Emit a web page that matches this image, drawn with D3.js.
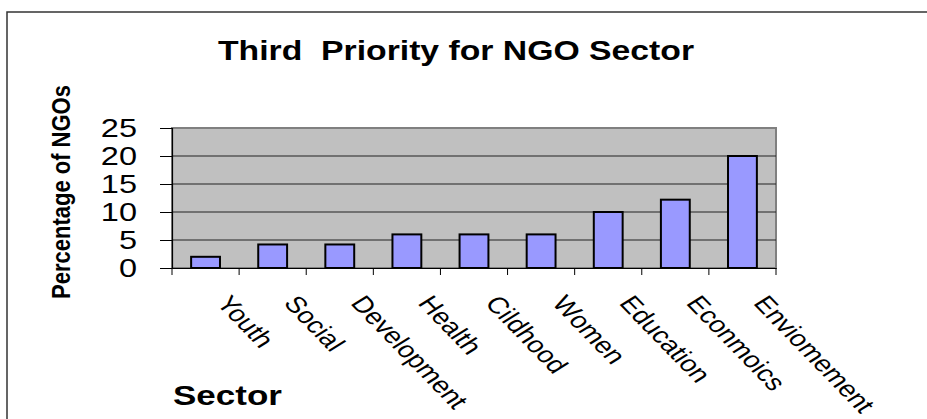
<!DOCTYPE html>
<html>
<head>
<meta charset="utf-8">
<script src="https://cdn.jsdelivr.net/npm/d3@7"></script>
<style>
  html, body { margin: 0; padding: 0; background: #fff; }
  svg { display: block; font-family: Arial, "Liberation Sans", sans-serif; }
</style>
</head>
<body>
<svg id="chart" width="927" height="419"></svg>
<script>
// Sector categories and the share of NGOs naming each as third priority
const sectors = ["Youth", "Social", "Development", "Health", "Cildhood", "Women", "Education", "Econmoics", "Enviomement"];
const shares = [2, 4.2, 4.2, 6, 6, 6, 10, 12.2, 20];
const yTicks = [0, 5, 10, 15, 20, 25];

const titleText = "Third  Priority for NGO Sector";
const yTitle = "Percentage of NGOs";
const xTitle = "Sector";

const svg = d3.select("#chart");
const plot = { left: 172, right: 776, top: 128, bottom: 268 };
const stretch = 1.25; // glyphs are drawn wider than they are tall

// outer chart frame
svg.append("rect")
  .attr("x", 7).attr("y", 12)
  .attr("width", 960).attr("height", 440)
  .attr("fill", "#fff")
  .attr("stroke", "#333").attr("stroke-width", 1.5);

const x = d3.scaleBand().domain(sectors).range([plot.left, plot.right]).paddingInner(0).paddingOuter(0);
const y = d3.scaleLinear().domain([0, 25]).range([plot.bottom, plot.top]);

// plot area
svg.append("rect")
  .attr("x", plot.left).attr("y", plot.top)
  .attr("width", plot.right - plot.left).attr("height", plot.bottom - plot.top)
  .attr("fill", "#c0c0c0")
  .attr("stroke", "#808080").attr("stroke-width", 2);

// horizontal gridlines
svg.append("g")
  .selectAll("line")
  .data(yTicks.filter(d => d > 0 && d < 25))
  .join("line")
  .attr("x1", plot.left).attr("x2", plot.right)
  .attr("y1", d => y(d)).attr("y2", d => y(d))
  .attr("stroke", "#222").attr("stroke-width", 1);

// bars
const bw = x.bandwidth() * 0.43;
svg.append("g")
  .selectAll("rect")
  .data(sectors.map((s, i) => ({ s, v: shares[i] })))
  .join("rect")
  .attr("x", d => x(d.s) + (x.bandwidth() - bw) / 2)
  .attr("y", d => y(d.v))
  .attr("width", bw)
  .attr("height", d => y(0) - y(d.v))
  .attr("fill", "#9999ff")
  .attr("stroke", "#000").attr("stroke-width", 2);

// y axis
const yAxis = svg.append("g")
  .attr("transform", `translate(${plot.left},0)`)
  .call(d3.axisLeft(y).tickValues(yTicks).tickSize(12).tickFormat(""));
yAxis.select(".domain").attr("stroke", "#000").attr("stroke-width", 1.2);
yAxis.selectAll(".tick line").attr("stroke", "#000");

svg.append("g")
  .selectAll("text")
  .data(yTicks)
  .join("text")
  .attr("transform", d => `translate(137,${y(d)}) scale(${stretch},1)`)
  .attr("text-anchor", "end")
  .attr("dy", "0.36em")
  .attr("font-size", 26)
  .attr("fill", "#000")
  .text(d => d);

// x axis
const xAxis = svg.append("g")
  .attr("transform", `translate(0,${plot.bottom})`)
  .call(d3.axisBottom(x).tickSize(0).tickFormat(""));
xAxis.select(".domain").attr("stroke", "#000").attr("stroke-width", 1.2);
xAxis.selectAll(".tick").remove();
const bounds = d3.range(sectors.length + 1).map(i => plot.left + i * x.step());
svg.append("g")
  .selectAll("line")
  .data(bounds)
  .join("line")
  .attr("x1", d => d).attr("x2", d => d)
  .attr("y1", plot.bottom).attr("y2", plot.bottom + 7)
  .attr("stroke", "#000");

// slanted category labels
svg.append("g")
  .selectAll("text")
  .data(sectors)
  .join("text")
  .attr("transform", d => `translate(${x(d) + x.bandwidth() / 2 + 27},293) scale(${stretch},1) rotate(52)`)
  .attr("dy", "0.75em")
  .attr("font-size", 23)
  .attr("fill", "#000")
  .text(d => d);

// titles
svg.append("text")
  .attr("transform", `translate(456,60) scale(${stretch},1)`)
  .attr("text-anchor", "middle")
  .attr("font-size", 27)
  .attr("font-weight", "bold")
  .style("white-space", "pre")
  .text(titleText);

svg.append("text")
  .attr("transform", `translate(173,405) scale(${stretch},1)`)
  .attr("font-size", 28)
  .attr("font-weight", "bold")
  .text(xTitle);

svg.append("text")
  .attr("transform", `translate(70,192) scale(1.2,1) rotate(-90)`)
  .attr("text-anchor", "middle")
  .attr("font-size", 22)
  .attr("font-weight", "bold")
  .text(yTitle);
</script>
</body>
</html>
